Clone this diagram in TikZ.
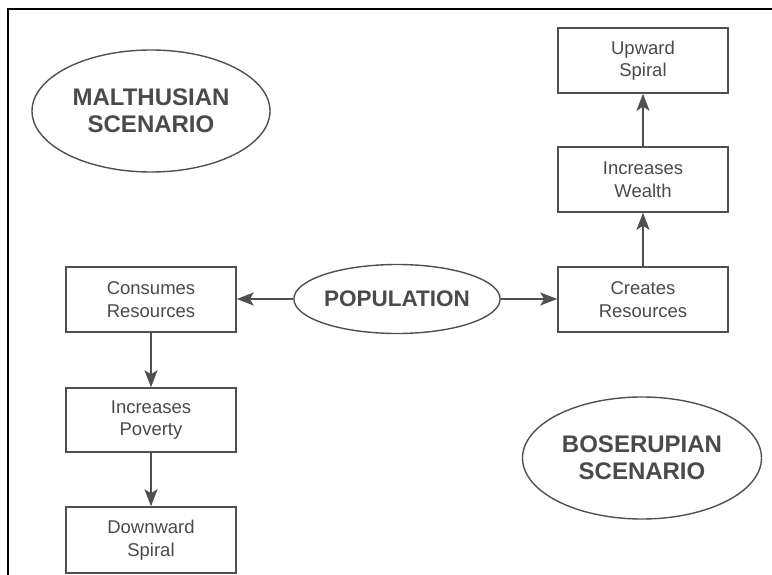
\documentclass[tikz,border=0pt]{standalone}
\usepackage{fontspec}
\setmainfont{Liberation Sans}
\usetikzlibrary{shapes.geometric,arrows.meta}
\definecolor{ink}{HTML}{4A4A4A}
\definecolor{edge}{HTML}{505050}
\tikzset{
  stepbox/.style={draw=edge, line width=1.5pt, rectangle, minimum width=170pt, minimum height=65pt, inner sep=0pt, align=center, text=ink, font=\fontsize{18.5}{22.5}\selectfont},
  oval/.style={draw=edge, line width=1.4pt, ellipse, inner sep=0pt, align=center, text=ink, font=\bfseries\fontsize{24}{27}\selectfont},
  link/.style={draw=edge, line width=2pt, -{Stealth[length=17pt,width=13pt,inset=4pt]}}
}
\begin{document}
\begin{tikzpicture}[x=1pt,y=-1pt]
\useasboundingbox (0,0) rectangle (772,575);
\fill[white] (0,0) rectangle (772,575);
\draw[black, line width=2pt] (8,576) -- (8,9.5) -- (773,9.5);
\node[oval, minimum width=238pt, minimum height=122pt] (malthus) at (151,111) {MALTHUSIAN\\SCENARIO};
\node[oval, minimum width=239pt, minimum height=122pt] (boserup) at (642,458) {BOSERUPIAN\\SCENARIO};
\node[oval, minimum width=203pt, minimum height=69pt, font=\bfseries\fontsize{22.5}{27}\selectfont] (pop) at (397,299) {POPULATION};
\node[stepbox] (up) at (643,60.5) {Upward\\Spiral};
\node[stepbox] (wealth) at (643,179.5) {Increases\\Wealth};
\node[stepbox] (creates) at (643,299.5) {Creates\\Resources};
\node[stepbox] (consumes) at (151,299.5) {Consumes\\Resources};
\node[stepbox, minimum height=64pt] (poverty) at (151,420) {Increases\\Poverty};
\node[stepbox, minimum height=66pt] (down) at (151,540) {Downward\\Spiral};
\draw[link] (pop.west) -- (pop.west -| consumes.east);
\draw[link] (pop.east) -- (pop.east -| creates.west);
\draw[link] (consumes.south) -- (poverty.north);
\draw[link] (poverty.south) -- (down.north);
\draw[link] (creates.north) -- (wealth.south);
\draw[link] (wealth.north) -- (up.south);
\end{tikzpicture}
\end{document}
